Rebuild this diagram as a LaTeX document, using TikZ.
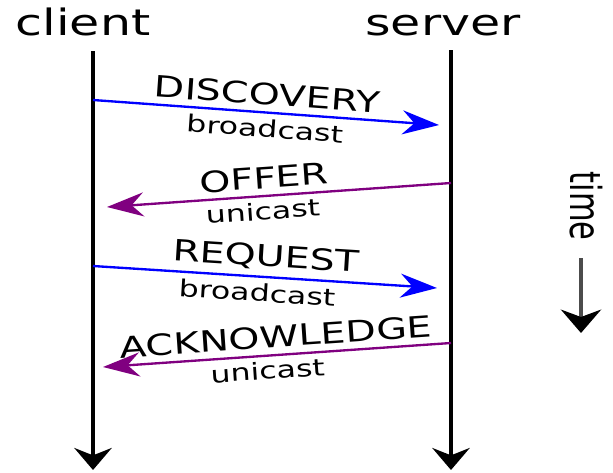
\documentclass[tikz,border=0pt]{standalone}
\usepackage{fontspec}
\setmainfont{DejaVu Sans}[FakeStretch=1.35]
\newfontfamily\plainfont{DejaVu Sans}
\usetikzlibrary{arrows.meta}
\definecolor{msgblue}{RGB}{0,0,255}
\definecolor{msgpurple}{RGB}{128,0,128}

\begin{document}
\begin{tikzpicture}[x=0.03cm,y=-0.03cm]
\tikzset{
  lifeline/.style={line width=3pt,-{Stealth[length=0.66cm,width=1.12cm,inset=0.22cm]}},
  timeline/.style={line width=3.6pt,black!70,-{Stealth[length=0.7cm,width=1.2cm,inset=0.22cm,color=black]}},
  msg/.style={line width=2pt,-{Stealth[length=1.1cm,width=0.72cm,inset=0.36cm]}},
  bigtext/.style={font=\fontsize{31}{33}\selectfont},
  msgtext/.style={font=\fontsize{25}{27}\selectfont,sloped,inner sep=2pt},
  casttext/.style={font=\fontsize{20}{22}\selectfont,sloped,inner sep=2pt}
}
\useasboundingbox (0,0) rectangle (613,472);

\coordinate (ctop) at (93,51);
\coordinate (cbot) at (93,470);
\coordinate (stop) at (451,50);
\coordinate (sbot) at (451,470);
\coordinate (ttop) at (581,258);
\coordinate (tbot) at (581,333);

\coordinate (d1) at (93,100);
\coordinate (d2) at (439,125);
\coordinate (o1) at (451,183);
\coordinate (o2) at (107,207);
\coordinate (r1) at (93,266);
\coordinate (r2) at (437,288);
\coordinate (a1) at (451,343);
\coordinate (a2) at (103,367);

\node[bigtext,anchor=base] (client) at (83,35) {client};
\node[bigtext,anchor=base] (server) at (443,35) {server};
\node[rotate=-90] (time) at (586,206) {\scalebox{1}[1.4]{\plainfont\fontsize{26}{28}\selectfont time}};

\draw[lifeline] (ctop) -- (cbot);
\draw[lifeline] (stop) -- (sbot);
\draw[timeline] (ttop) -- (tbot);

\draw[msg,msgblue] (d1) -- node[msgtext,above=3pt,text=black] (dlab) {DISCOVERY}
  node[casttext,below=3pt,text=black] (dcast) {broadcast} (d2);
\draw[msg,msgpurple] (o1) -- node[msgtext,above=3pt,pos=0.54,text=black] (olab) {OFFER}
  node[casttext,below=2pt,pos=0.55,text=black] (ocast) {unicast} (o2);
\draw[msg,msgblue] (r1) -- node[msgtext,above=3pt,text=black] (rlab) {REQUEST}
  node[casttext,below=3pt,pos=0.48,text=black] (rcast) {broadcast} (r2);
\draw[msg,msgpurple] (a1) -- node[msgtext,above=3pt,text=black] (alab) {ACKNOWLEDGE}
  node[casttext,below=2pt,pos=0.53,text=black] (acast) {unicast} (a2);
\end{tikzpicture}
\end{document}
